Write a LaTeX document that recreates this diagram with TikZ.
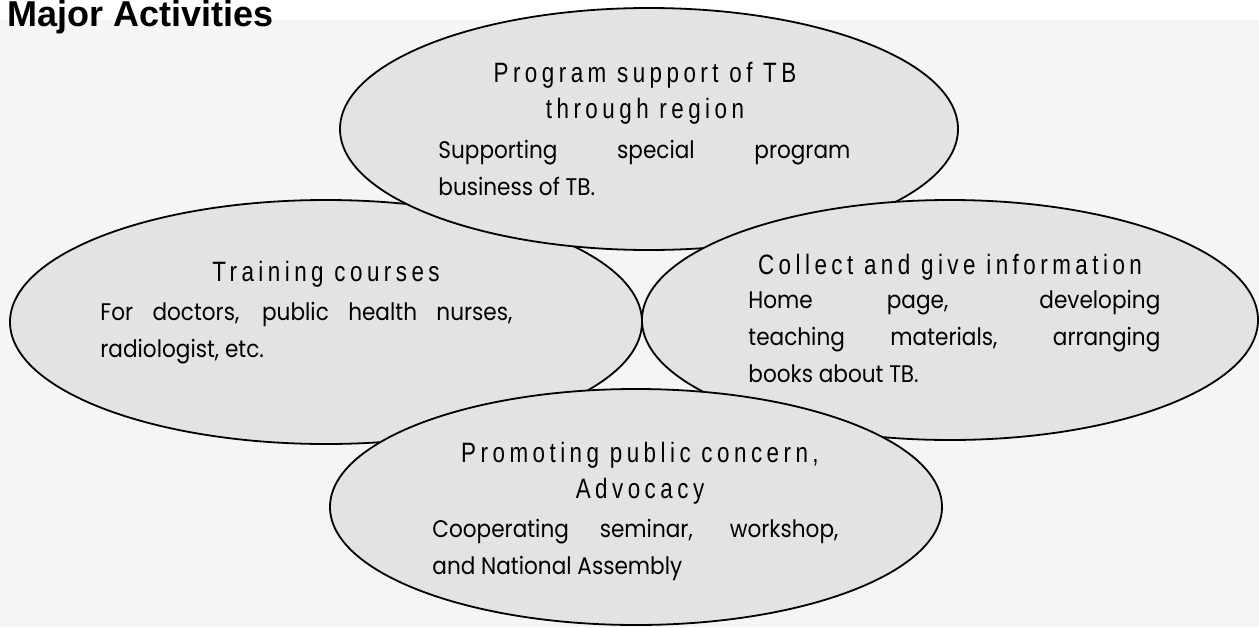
\documentclass[tikz,border=0pt]{standalone}
\usepackage{fontspec}
\setmainfont{Poppins}[FakeStretch=0.9]
\newfontfamily\headfont{Liberation Sans}[FakeStretch=0.8, LetterSpace=16]
\newfontfamily\titlefont{Liberation Sans}
\usetikzlibrary{shapes.geometric, positioning}
\hyphenpenalty=10000
\tolerance=10000

\begin{document}
\begin{tikzpicture}[x=0.5pt, y=-0.5pt,
    oval/.style={ellipse, draw=black, line width=0.9pt, fill=black!11, inner sep=0pt},
    headtxt/.style={font=\headfont\fontsize{14}{18}\selectfont, align=center, inner sep=0pt, anchor=base},
    bodytxt/.style={font=\fontsize{12}{18.7}\selectfont, text width=206pt, align=justify, inner sep=0pt, anchor=base west}]
    \useasboundingbox (0,0) rectangle (1259,627);
    \fill[black!4] (0,20) rectangle (1259,627);
    \node[font=\titlefont\bfseries\fontsize{18}{20}\selectfont, anchor=base west, inner sep=0pt] (title) at (7,26) {Major Activities};
    % training courses (left)
    \node[oval, minimum width=316pt, minimum height=122pt] (train) at (326,322) {};
    \node[headtxt] (trainhead) at (326,281) {Training courses};
    \node[bodytxt] (trainbody) at (100,320) {For doctors, public health nurses,\linebreak radiologist, etc.};
    % program support (top), base sits on the last heading line
    \node[oval, minimum width=309pt, minimum height=121pt] (prog) at (649,129) {};
    \node[headtxt] (proghead) at (645,118) {Program support of TB\\through region};
    \node[bodytxt] (progbody) at (438,158) {Supporting special program\linebreak business of TB.};
    % information (right)
    \node[oval, minimum width=308pt, minimum height=120pt] (info) at (950,320) {};
    \node[headtxt] (infohead) at (950,274) {Collect and give information};
    \node[bodytxt] (infobody) at (748,308) {Home page, developing\linebreak teaching materials, arranging\linebreak books about TB.};
    % advocacy (bottom)
    \node[oval, minimum width=306pt, minimum height=118pt] (advo) at (636,507) {};
    \node[headtxt] (advohead) at (640,498) {Promoting public concern,\\Advocacy};
    \node[bodytxt, text width=203pt] (advobody) at (432,537) {Cooperating seminar, workshop,\linebreak and National Assembly};
\end{tikzpicture}
\end{document}
